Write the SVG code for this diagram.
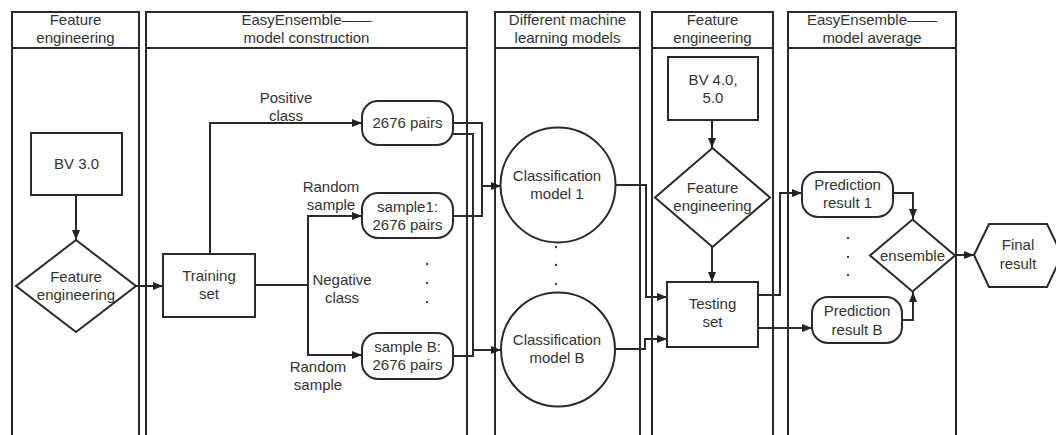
<svg xmlns="http://www.w3.org/2000/svg" width="1056" height="435" viewBox="0 0 1056 435">
  <defs>
    <marker id="arrow" viewBox="0 0 10 8" refX="10" refY="4" markerWidth="11" markerHeight="8" markerUnits="userSpaceOnUse" orient="auto">
      <path d="M0,0 L10,4 L0,8 Z" fill="#222"/>
    </marker>
    <style>
      .lane { fill: none; stroke: #2a2a2a; stroke-width: 2; }
      .shape { fill: #fff; stroke: #2a2a2a; stroke-width: 2; }
      .wire { fill: none; stroke: #2a2a2a; stroke-width: 2; }
      .arr { marker-end: url(#arrow); }
      text { font-family: "Liberation Sans", Arial, sans-serif; font-size: 15px; fill: #333; text-anchor: middle; }
      .dot { fill: #444; }
    </style>
  </defs>
  <rect width="1056" height="435" fill="#fff"/>

  <!-- swimlanes -->
  <g id="lanes">
    <g id="lane-feature-1">
      <path class="lane" d="M12,440 V12 H139 V440 M12,48 H139"/>
      <text x="75.5" y="25">Feature</text>
      <text x="75.5" y="43">engineering</text>
    </g>
    <g id="lane-construction">
      <path class="lane" d="M146,440 V12 H467 V440 M146,48 H467"/>
      <text x="306.5" y="25">EasyEnsemble——</text>
      <text x="306.5" y="43">model construction</text>
    </g>
    <g id="lane-models">
      <path class="lane" d="M495,440 V12 H640 V440 M495,48 H640"/>
      <text x="567.5" y="25">Different machine</text>
      <text x="567.5" y="43">learning models</text>
    </g>
    <g id="lane-feature-2">
      <path class="lane" d="M652,440 V12 H773 V440 M652,48 H773"/>
      <text x="712.5" y="25">Feature</text>
      <text x="712.5" y="43">engineering</text>
    </g>
    <g id="lane-average">
      <path class="lane" d="M788,440 V12 H956 V440 M788,48 H956"/>
      <text x="872" y="25">EasyEnsemble——</text>
      <text x="872" y="43">model average</text>
    </g>
  </g>

  <!-- connectors -->
  <g id="connectors">
    <path class="wire arr" d="M76,195 V240"/>
    <path class="wire arr" d="M136,286 H163"/>
    <path class="wire arr" d="M210,254 V123 H362"/>
    <path class="wire" d="M255,285 H308"/>
    <path class="wire arr" d="M308,285 V216 H362"/>
    <path class="wire arr" d="M308,285 V355 H362"/>
    <path class="wire" d="M453,123 H482 V216 H453"/>
    <path class="wire arr" d="M482,186 H501"/>
    <path class="wire" d="M452,134 H473 V356 H453"/>
    <path class="wire arr" d="M473,350 H501"/>
    <path class="wire arr" d="M616,185 H646 V297 H667"/>
    <path class="wire arr" d="M616,349 H645 V339 H667"/>
    <path class="wire arr" d="M712,120 V148"/>
    <path class="wire arr" d="M712,247 V282"/>
    <path class="wire arr" d="M758,295 H780 V193 H802"/>
    <path class="wire arr" d="M758,328 H812"/>
    <path class="wire arr" d="M893,193 H913 V219"/>
    <path class="wire arr" d="M902,320 H913 V292"/>
    <path class="wire arr" d="M955,255 H974"/>
    <!-- edge labels -->
    <text x="286" y="103">Positive</text>
    <text x="286" y="121">class</text>
    <text x="331" y="192">Random</text>
    <text x="331" y="210">sample</text>
    <text x="342" y="285">Negative</text>
    <text x="342" y="303">class</text>
    <text x="318" y="372">Random</text>
    <text x="318" y="390">sample</text>
  </g>

  <!-- nodes -->
  <g id="bv3">
    <rect class="shape" x="31" y="133" width="91" height="62"/>
    <text x="76.5" y="169">BV 3.0</text>
  </g>
  <g id="fe1">
    <polygon class="shape" points="76,240 136,286 76,332 16,286"/>
    <text x="76" y="282">Feature</text>
    <text x="76" y="300">engineering</text>
  </g>
  <g id="training-set">
    <rect class="shape" x="163" y="254" width="92" height="63"/>
    <text x="209" y="281">Training</text>
    <text x="209" y="299">set</text>
  </g>
  <g id="positive-pairs">
    <rect class="shape" x="362" y="101" width="91" height="44" rx="16"/>
    <text x="407.5" y="128">2676 pairs</text>
  </g>
  <g id="sample-1">
    <rect class="shape" x="362" y="193" width="91" height="45" rx="16"/>
    <text x="407.5" y="212">sample1:</text>
    <text x="407.5" y="230">2676 pairs</text>
  </g>
  <g id="sample-b">
    <rect class="shape" x="362" y="333" width="91" height="46" rx="16"/>
    <text x="407.5" y="352">sample B:</text>
    <text x="407.5" y="370">2676 pairs</text>
  </g>
  <g id="sample-dots">
    <circle class="dot" cx="427" cy="264" r="1.2"/>
    <circle class="dot" cx="427" cy="283" r="1.2"/>
    <circle class="dot" cx="427" cy="302" r="1.2"/>
  </g>
  <g id="model-1">
    <circle class="shape" cx="558" cy="185" r="57.5"/>
    <text x="557" y="181">Classification</text>
    <text x="557" y="199">model 1</text>
  </g>
  <g id="model-dots">
    <circle class="dot" cx="556" cy="247" r="1.2"/>
    <circle class="dot" cx="556" cy="265" r="1.2"/>
    <circle class="dot" cx="556" cy="284" r="1.2"/>
  </g>
  <g id="model-b">
    <circle class="shape" cx="558" cy="349.5" r="57"/>
    <text x="557" y="345">Classification</text>
    <text x="557" y="363">model B</text>
  </g>
  <g id="bv45">
    <rect class="shape" x="668" y="57" width="90" height="63"/>
    <text x="713" y="85">BV 4.0,</text>
    <text x="713" y="103">5.0</text>
  </g>
  <g id="fe2">
    <polygon class="shape" points="712.5,148 770,197.5 712.5,247 655,197.5"/>
    <text x="712.5" y="193">Feature</text>
    <text x="712.5" y="211">engineering</text>
  </g>
  <g id="testing-set">
    <rect class="shape" x="667" y="282" width="91" height="65"/>
    <text x="712.5" y="309">Testing</text>
    <text x="712.5" y="327">set</text>
  </g>
  <g id="prediction-1">
    <rect class="shape" x="802" y="172" width="91" height="45" rx="16"/>
    <text x="847.5" y="189.5">Prediction</text>
    <text x="847.5" y="208">result 1</text>
  </g>
  <g id="prediction-dots">
    <circle class="dot" cx="848" cy="238" r="1.2"/>
    <circle class="dot" cx="848" cy="257" r="1.2"/>
    <circle class="dot" cx="848" cy="275" r="1.2"/>
  </g>
  <g id="prediction-b">
    <rect class="shape" x="812" y="297" width="90" height="46" rx="16"/>
    <text x="857" y="316">Prediction</text>
    <text x="857" y="334.5">result B</text>
  </g>
  <g id="ensemble">
    <polygon class="shape" points="912.5,219.5 955,255.5 912.5,291.5 870,255.5"/>
    <text x="912.5" y="260.5">ensemble</text>
  </g>
  <g id="final-result">
    <polygon class="shape" points="974,255 989,224 1047,224 1062,255 1047,287 989,287"/>
    <text x="1018" y="250">Final</text>
    <text x="1018" y="268.5">result</text>
  </g>
</svg>
